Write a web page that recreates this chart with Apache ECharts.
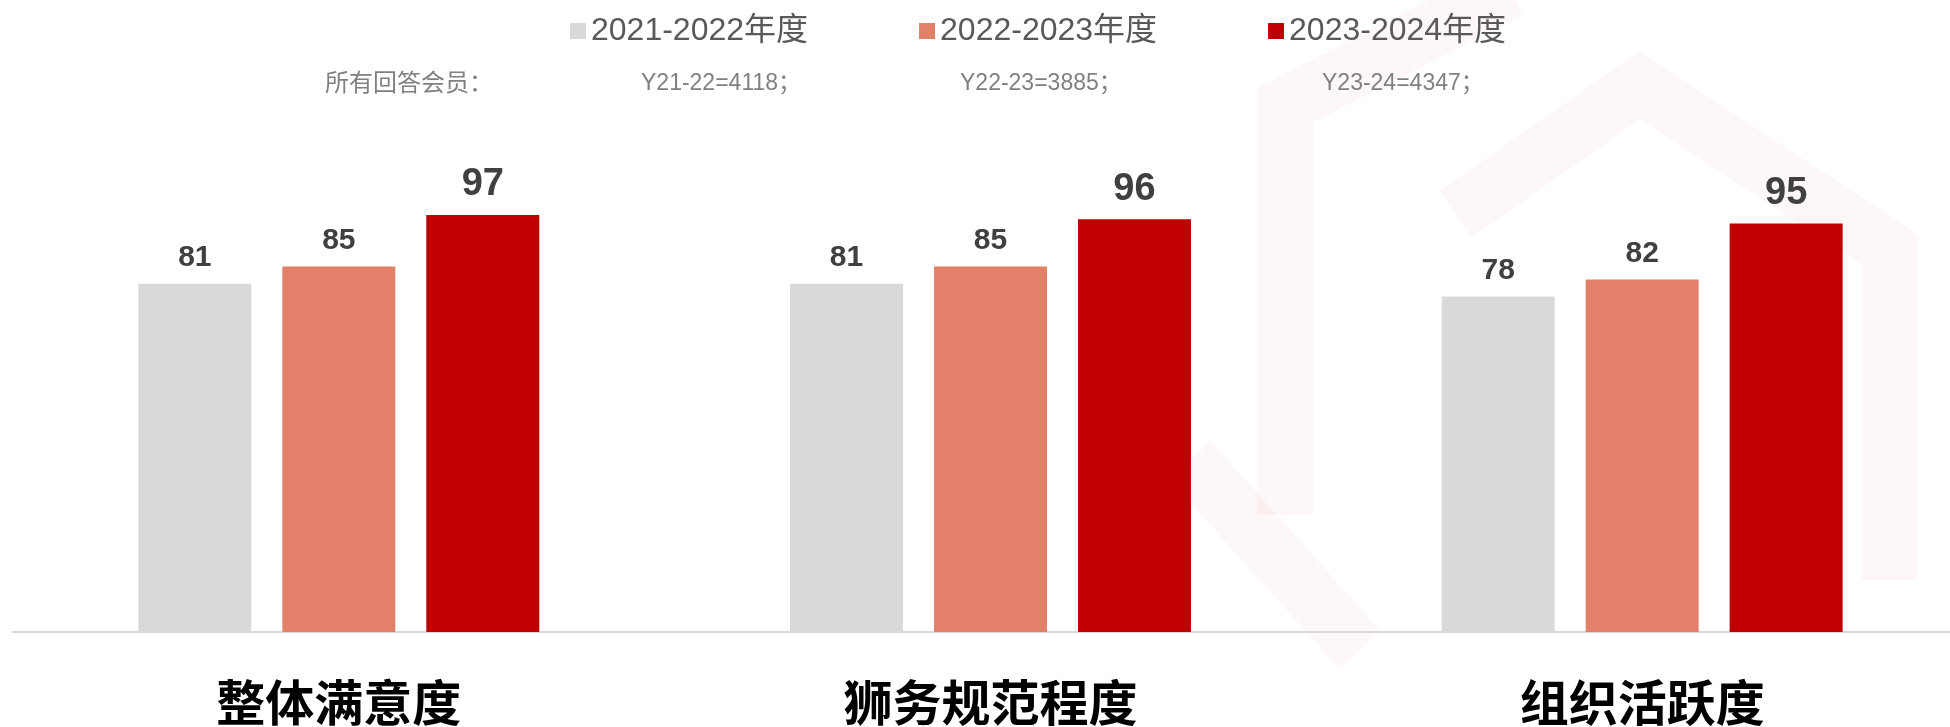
<!DOCTYPE html>
<html>
<head>
<meta charset="utf-8">
<script src="https://cdn.jsdelivr.net/npm/echarts@6/dist/echarts.min.js"></script>
<style>
    html, body { margin: 0; padding: 0; background: #ffffff; }
    #chart { width: 1950px; height: 727px; }
</style>
</head>
<body>
<div id="chart"></div>
<script>
    // 类别和数据
    var categories = ['整体满意度', '狮务规范程度', '组织活跃度'];
    var seriesNames = ['2021-2022年度', '2022-2023年度', '2023-2024年度'];
    var values2122 = [81, 81, 78];
    var values2223 = [85, 85, 82];
    var values2324 = [97, 96, 95];
    var colors = ['#D9D9D9', '#E2806A', '#C00000'];
    // 回答人数说明
    var noteTexts = ['所有回答会员：', 'Y21-22=4118；', 'Y22-23=3885；', 'Y23-24=4347；'];
    var noteX = [325, 641, 960, 1322];

    var myChart = echarts.init(document.getElementById('chart'));

    function barSeries(name, data, color, labelSize) {
        return {
            name: name,
            type: 'bar',
            data: data,
            barWidth: 113,
            barGap: '27.4%',
            itemStyle: { color: color },
            label: {
                show: true,
                position: 'top',
                distance: 11,
                color: '#404040',
                fontSize: labelSize,
                fontWeight: 'bold',
                fontFamily: 'Liberation Sans, Arial, sans-serif'
            }
        };
    }

    // 背景水印（淡红色六边形）
    var wmStyle = { stroke: 'rgba(192,0,0,0.03)', lineWidth: 56, fill: null, lineJoin: 'miter' };
    var graphics = [
        { type: 'polyline', z: -10, silent: true, shape: { points: [[1510, -10], [1285, 105], [1285, 515]] }, style: wmStyle },
        { type: 'polyline', z: -10, silent: true, shape: { points: [[1456, 214], [1640, 85], [1890, 250], [1890, 580]] }, style: wmStyle },
        { type: 'polyline', z: -10, silent: true, shape: { points: [[1190, 460], [1360, 650]] }, style: wmStyle }
    ];
    noteTexts.forEach(function (t, i) {
        graphics.push({
            type: 'text',
            left: noteX[i],
            top: 72,
            style: {
                text: t,
                fill: '#808080',
                fontSize: i === 0 ? 24 : 23,
                fontFamily: 'Liberation Sans, Noto Sans CJK SC, sans-serif'
            }
        });
    });

    var option = {
        backgroundColor: '#ffffff',
        animation: false,
        color: colors,
        legend: {
            left: 565,
            top: 10,
            itemWidth: 16,
            itemHeight: 16,
            itemGap: 111,
            icon: 'rect',
            data: seriesNames,
            textStyle: {
                color: '#595959',
                fontSize: 32,
                fontFamily: 'Liberation Sans, Noto Sans CJK SC, sans-serif'
            }
        },
        graphic: graphics,
        // 网格右侧略超出画布
        grid: { left: 13, right: -18, top: 202, bottom: 95, outerBoundsMode: 'none' },
        xAxis: {
            type: 'category',
            data: categories,
            axisLine: { lineStyle: { color: '#D9D9D9', width: 2 } },
            axisTick: { show: false },
            axisLabel: {
                margin: 46,
                color: '#000000',
                fontSize: 49,
                fontWeight: 'bold',
                fontFamily: 'Noto Sans CJK SC, sans-serif'
            }
        },
        yAxis: {
            type: 'value',
            min: 0,
            max: 100,
            show: false,
            splitLine: { show: false }
        },
        series: [
            barSeries(seriesNames[0], values2122, colors[0], 30),
            barSeries(seriesNames[1], values2223, colors[1], 30),
            barSeries(seriesNames[2], values2324, colors[2], 38)
        ]
    };
    myChart.setOption(option);
</script>
</body>
</html>
